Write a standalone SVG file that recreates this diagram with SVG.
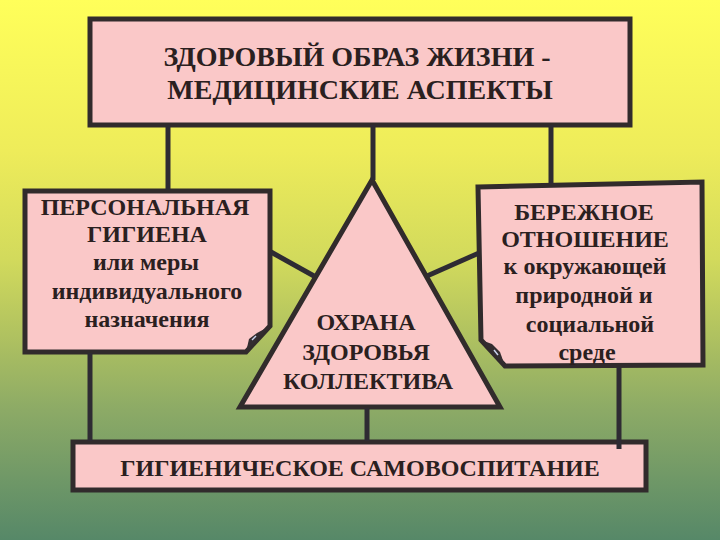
<svg xmlns="http://www.w3.org/2000/svg" width="720" height="540" viewBox="0 0 720 540">
  <defs>
    <linearGradient id="bg" x1="0" y1="0" x2="0" y2="1">
      <stop offset="0" stop-color="#ffff5a"/>
      <stop offset="0.28" stop-color="#eeec5a"/>
      <stop offset="0.48" stop-color="#d2da5c"/>
      <stop offset="0.62" stop-color="#b0c260"/>
      <stop offset="0.76" stop-color="#8caa66"/>
      <stop offset="1" stop-color="#568868"/>
    </linearGradient>
  </defs>
  <style>
    .box { fill: #fac8c8; stroke: #312b2c; stroke-width: 5; stroke-linejoin: miter; }
    .fold { fill: #332d30; }
    .hl { stroke: #c8d2ec; stroke-width: 1.5; fill: none; }
    .conn { stroke: #2e2b33; stroke-width: 5; fill: none; }
    text { font-family: "Liberation Serif", "Times New Roman", Tinos, "Noto Serif", "DejaVu Serif", FreeSerif, Times, serif; font-weight: bold; fill: #2a2020; text-anchor: middle; }
  </style>
  <rect x="0" y="0" width="720" height="540" fill="url(#bg)"/>

  <g id="top">
    <rect class="box" x="90" y="19" width="540" height="106"/>
    <text x="357" y="66" font-size="28">ЗДОРОВЫЙ ОБРАЗ ЖИЗНИ -</text>
    <text x="360" y="99" font-size="28">МЕДИЦИНСКИЕ АСПЕКТЫ</text>
  </g>

  <g id="personal">
    <path class="box" d="M25,191 H270 V326 L246,352 H25 Z"/>
    <path class="fold" d="M246,352 L249,339 L257,333 L270,326 Z"/>
    <path class="hl" d="M252,340 L256,336"/>
    <text x="145" y="215" font-size="24">ПЕРСОНАЛЬНАЯ</text>
    <text x="147" y="242" font-size="24">ГИГИЕНА</text>
    <text x="146" y="270" font-size="24">или меры</text>
    <text x="147" y="299" font-size="24">индивидуального</text>
    <text x="147" y="327" font-size="24">назначения</text>
  </g>

  <g id="collective">
    <polygon class="box" points="372,180 500,407 240,407"/>
    <text x="366" y="330" font-size="24">ОХРАНА</text>
    <text x="366" y="360" font-size="24">ЗДОРОВЬЯ</text>
    <text x="368" y="389" font-size="24">КОЛЛЕКТИВА</text>
  </g>

  <g id="environment">
    <path class="box" d="M478,187 L702,182 L703,365 L505,366 L481,340 Z"/>
    <path class="fold" d="M481,340 L492,344 L500,352 L505,366 Z"/>
    <path class="hl" d="M494,350 L498,355"/>
    <text x="584" y="220" font-size="24">БЕРЕЖНОЕ</text>
    <text x="585" y="247" font-size="24">ОТНОШЕНИЕ</text>
    <text x="585" y="274" font-size="24">к окружающей</text>
    <text x="584" y="303" font-size="24">природной и</text>
    <text x="590" y="332" font-size="24">социальной</text>
    <text x="587" y="360" font-size="24">среде</text>
  </g>

  <g id="selfeducation">
    <rect class="box" x="73" y="442" width="573" height="48"/>
    <text x="360" y="476" font-size="24">ГИГИЕНИЧЕСКОЕ САМОВОСПИТАНИЕ</text>
  </g>

  <g id="connectors">
    <line class="conn" x1="168" y1="125" x2="168" y2="190"/>
    <line class="conn" x1="373" y1="125" x2="373" y2="180"/>
    <line class="conn" x1="551" y1="125" x2="551" y2="184"/>
    <line class="conn" x1="271" y1="252" x2="314" y2="276"/>
    <line class="conn" x1="427" y1="276" x2="479" y2="253"/>
    <line class="conn" x1="90" y1="353" x2="90" y2="441"/>
    <line class="conn" x1="367" y1="408" x2="367" y2="441"/>
    <line class="conn" x1="619" y1="367" x2="619" y2="449"/>
  </g>
</svg>
